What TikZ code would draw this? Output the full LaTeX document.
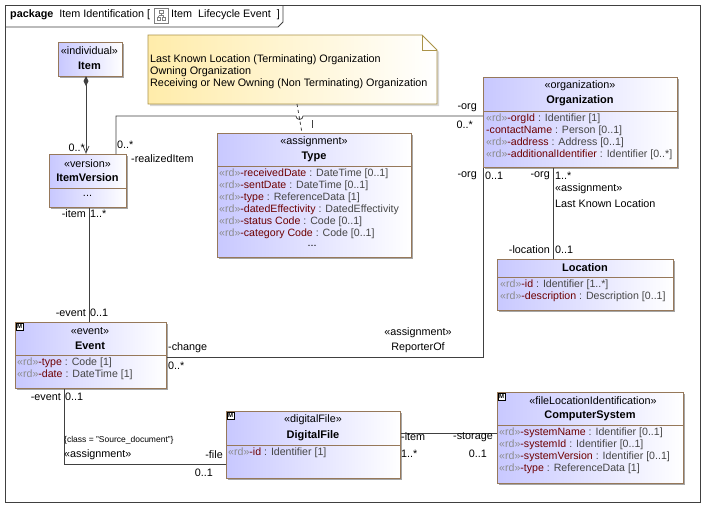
\documentclass[tikz,border=0pt]{standalone}
\usepackage{fontspec}
\setmainfont{Liberation Sans}
\usetikzlibrary{shadows,positioning}
\definecolor{lav}{RGB}{200,200,255}
\definecolor{brd}{RGB}{150,120,90}
\definecolor{nm}{RGB}{110,0,0}
\definecolor{gr}{RGB}{140,140,140}
\definecolor{ty}{RGB}{70,70,70}
\definecolor{ny}{RGB}{255,236,170}
\newcommand{\rdx}{{\color{gr}«rd»}}
\newcommand{\atr}[2]{{\color{nm}#1} {\color{ty}: #2}}
\begin{document}
\begin{tikzpicture}[x=1pt,y=-1pt,font=\fontsize{10.8}{12}\selectfont,
 box/.style={draw=brd,line width=0.8pt,left color=lav,right color=white,anchor=north west,inner sep=0,
   drop shadow={shadow xshift=2pt,shadow yshift=-2pt,fill=black!35,opacity=1}},
 ln/.style={draw=black!75,line width=0.8pt},
 lb/.style={inner sep=1pt,font=\fontsize{10.8}{12}\selectfont},
 bn/.style={inner sep=1pt,font=\bfseries\fontsize{11}{12}\selectfont},
 att/.style={anchor=north west,align=left,inner sep=0,font=\fontsize{10.6}{12}\selectfont},
 mk/.style={draw,fill=white,inner sep=0,minimum size=7pt,font=\fontsize{6}{6}\bfseries\selectfont,anchor=north west}]
\useasboundingbox (0,0) rectangle (715,517);
\fill[white] (0,0) rectangle (715,517);
% frame
\draw[ln] (5,5) rectangle (700,502);
\draw[ln] (5,27) -- (278,27) -- (283,22) -- (283,5);
\node[anchor=west,inner sep=0] (title) at (10,15) {\textbf{package}\ \ Item Identification [};
\node[anchor=west,inner sep=0] (title2) at (171,15) {Item\ \ Lifecycle Event\ \ ]};
\draw[gray] (154,8) rectangle (168,23);
\draw[gray] (159,10.5) rectangle (163,13.5) (157,17.5) rectangle (160.5,20.5) (162,17.5) rectangle (165.5,20.5) (161,13.5)--(161,15.5) (158.5,15.5)--(163.5,15.5) (158.5,15.5)--(158.5,17.5) (163.5,15.5)--(163.5,17.5);
% note
\shade[left color=ny,right color=white,draw=brd!80!yellow,line width=0.8pt,drop shadow={shadow xshift=2pt,shadow yshift=-2pt,fill=black!30}] (148,35) -- (422,35) -- (437,50) -- (437,104) -- (148,104) -- cycle;
\draw[brd!80!yellow,line width=0.8pt] (422,35) -- (422,50) -- (437,50);
\node[anchor=north west,align=left,inner sep=0] (note) at (150,54) {Last Known Location (Terminating) Organization\\Owning Organization\\Receiving or New Owning (Non Terminating) Organization};
\coordinate (noteb) at (297,104);
% Item
\node[box,minimum width=64pt,minimum height=34pt] (item) at (58,42) {};
\node[lb] at (89.5,51) {«individual»};
\node[bn] at (89.5,66) {Item};
% ItemVersion
\node[box,minimum width=77pt,minimum height=53pt] (iv) at (49,154) {};
\draw[brd,line width=0.8pt] (49,188) -- (126,188);
\node[lb] at (87.5,164) {«version»};
\node[bn] at (87.5,178) {ItemVersion};
\node[lb] at (87.5,196) {...};
% Type
\node[box,minimum width=194pt,minimum height=124pt] (type) at (217,133) {};
\draw[brd,line width=0.8pt] (217,166) -- (411,166);
\node[lb] at (314,142) {«assignment»};
\node[bn] at (314,157) {Type};
\node[att] at (219,169) {\rdx\atr{-receivedDate}{DateTime [0..1]}\\\rdx\atr{-sentDate}{DateTime [0..1]}\\\rdx\atr{-type}{ReferenceData [1]}\\\rdx\atr{-datedEffectivity}{DatedEffectivity}\\\rdx\atr{-status Code}{Code [0..1]}\\\rdx\atr{-category Code}{Code [0..1]}};
\node[lb] at (312,246) {...};
% Organization
\node[box,minimum width=194pt,minimum height=90pt] (org) at (483,77) {};
\draw[brd,line width=0.8pt] (483,111) -- (677,111);
\node[lb] at (580,86) {«organization»};
\node[bn] at (580,101) {Organization};
\node[att] at (486,114) {\rdx\atr{-orgId}{Identifier [1]}\\\atr{-contactName}{Person [0..1]}\\\rdx\atr{-address}{Address [0..1]}\\\rdx\atr{-additionalIdentifier}{Identifier [0..*]}};
% Location
\node[box,minimum width=176pt,minimum height=51pt] (loc) at (497,259) {};
\draw[brd,line width=0.8pt] (497,277) -- (673,277);
\node[bn] at (585,268) {Location};
\node[att] at (500,280) {\rdx\atr{-id}{Identifier [1..*]}\\\rdx\atr{-description}{Description [0..1]}};
% Event
\node[box,minimum width=151pt,minimum height=66pt] (ev) at (15,322) {};
\draw[brd,line width=0.8pt] (15,355) -- (166,355);
\node[mk] at (16,323) {M};
\node[lb] at (90,331) {«event»};
\node[bn] at (90,346) {Event};
\node[att] at (17,358) {\rdx\atr{-type}{Code [1]}\\\rdx\atr{-date}{DateTime [1]}};
% DigitalFile
\node[box,minimum width=174pt,minimum height=67pt] (df) at (226,411) {};
\draw[brd,line width=0.8pt] (226,445) -- (400,445);
\node[mk] at (227,412) {M};
\node[lb] at (313,420) {«digitalFile»};
\node[bn] at (313,436) {DigitalFile};
\node[att] at (228,448) {\rdx\atr{-id}{Identifier [1]}};
% ComputerSystem
\node[box,minimum width=186pt,minimum height=91pt] (cs) at (497,392) {};
\draw[brd,line width=0.8pt] (497,425) -- (683,425);
\node[mk] at (498,393) {M};
\node[lb] at (593,401) {«fileLocationIdentification»};
\node[bn] at (590,416) {ComputerSystem};
\node[att] at (499,428) {\rdx\atr{-systemName}{Identifier [0..1]}\\\rdx\atr{-systemId}{Identifier [0..1]}\\\rdx\atr{-systemVersion}{Identifier [0..1]}\\\rdx\atr{-type}{ReferenceData [1]}};
% connectors
\draw[ln] (item.south -| 86,0) -- (86,152);
\draw[black!75,line width=0.7pt] (83,146)--(86,153)--(89,146);
\fill[black!75] (86,76) -- (88.5,81) -- (86,86) -- (83.5,81) -- cycle;
\draw[ln] (iv.north -| 116,0) -- (116,116) -- (296,116) arc[start angle=180,end angle=0,radius=3.5] -- (org.west |- 0,116);
\draw[black!75,dashed,line width=0.8pt] (noteb) -- (type.north -| 302,0);
\draw[black!75,line width=0.8pt] (312,120) -- (312,128);
\draw[ln] (iv.south -| 89,0) -- (ev.north -| 89,0);
\draw[ln] (org.south -| 553,0) -- (loc.north -| 553,0);
\draw[ln] (org.south west) -- (483,357) -- (ev.east |- 0,357);
\draw[ln] (ev.south -| 64,0) -- (64,464) -- (df.west |- 0,464);
\draw[ln] (df.east |- 0,433) -- (cs.west |- 0,433);
% labels
\node[lb,anchor=east] at (86,148) {0..*};
\node[lb,anchor=west] at (116,145) {0..*};
\node[lb,anchor=west] at (130,159) {-realizedItem};
\node[lb,anchor=east] at (87,214) {-item};
\node[lb,anchor=west] at (89,214) {1..*};
\node[lb,anchor=east] at (87,313) {-event};
\node[lb,anchor=west] at (89,313) {0..1};
\node[lb,anchor=east] at (478,108) {-org};
\node[lb,anchor=east] at (474,125) {0..*};
\node[lb,anchor=east] at (478,176) {-org};
\node[lb,anchor=west] at (484,176) {0..1};
\node[lb,anchor=east] at (551,176) {-org};
\node[lb,anchor=west] at (554,176) {1..*};
\node[lb,anchor=west] at (554,189) {«assignment»};
\node[lb,anchor=west] at (554,204) {Last Known Location};
\node[lb,anchor=east] at (551,250) {-location};
\node[lb,anchor=west] at (554,250) {0..1};
\node[lb] at (418,333) {«assignment»};
\node[lb] at (418,348) {ReporterOf};
\node[lb,anchor=west] at (167,348) {-change};
\node[lb,anchor=west] at (167,366) {0..*};
\node[lb,anchor=east] at (62,397) {-event};
\node[lb,anchor=west] at (64,397) {0..1};
\node[lb,anchor=west,font=\fontsize{8.5}{9}\selectfont] at (63,440) {\{class = "Source\_document"\}};
\node[lb,anchor=west] at (63,455) {«assignment»};
\node[lb,anchor=east] at (224,455) {-file};
\node[lb,anchor=east] at (214,473) {0..1};
\node[lb,anchor=west] at (400,437) {-item};
\node[lb,anchor=west] at (400,454) {1..*};
\node[lb,anchor=east] at (494,437) {-storage};
\node[lb,anchor=east] at (488,454) {0..1};
\end{tikzpicture}
\end{document}
